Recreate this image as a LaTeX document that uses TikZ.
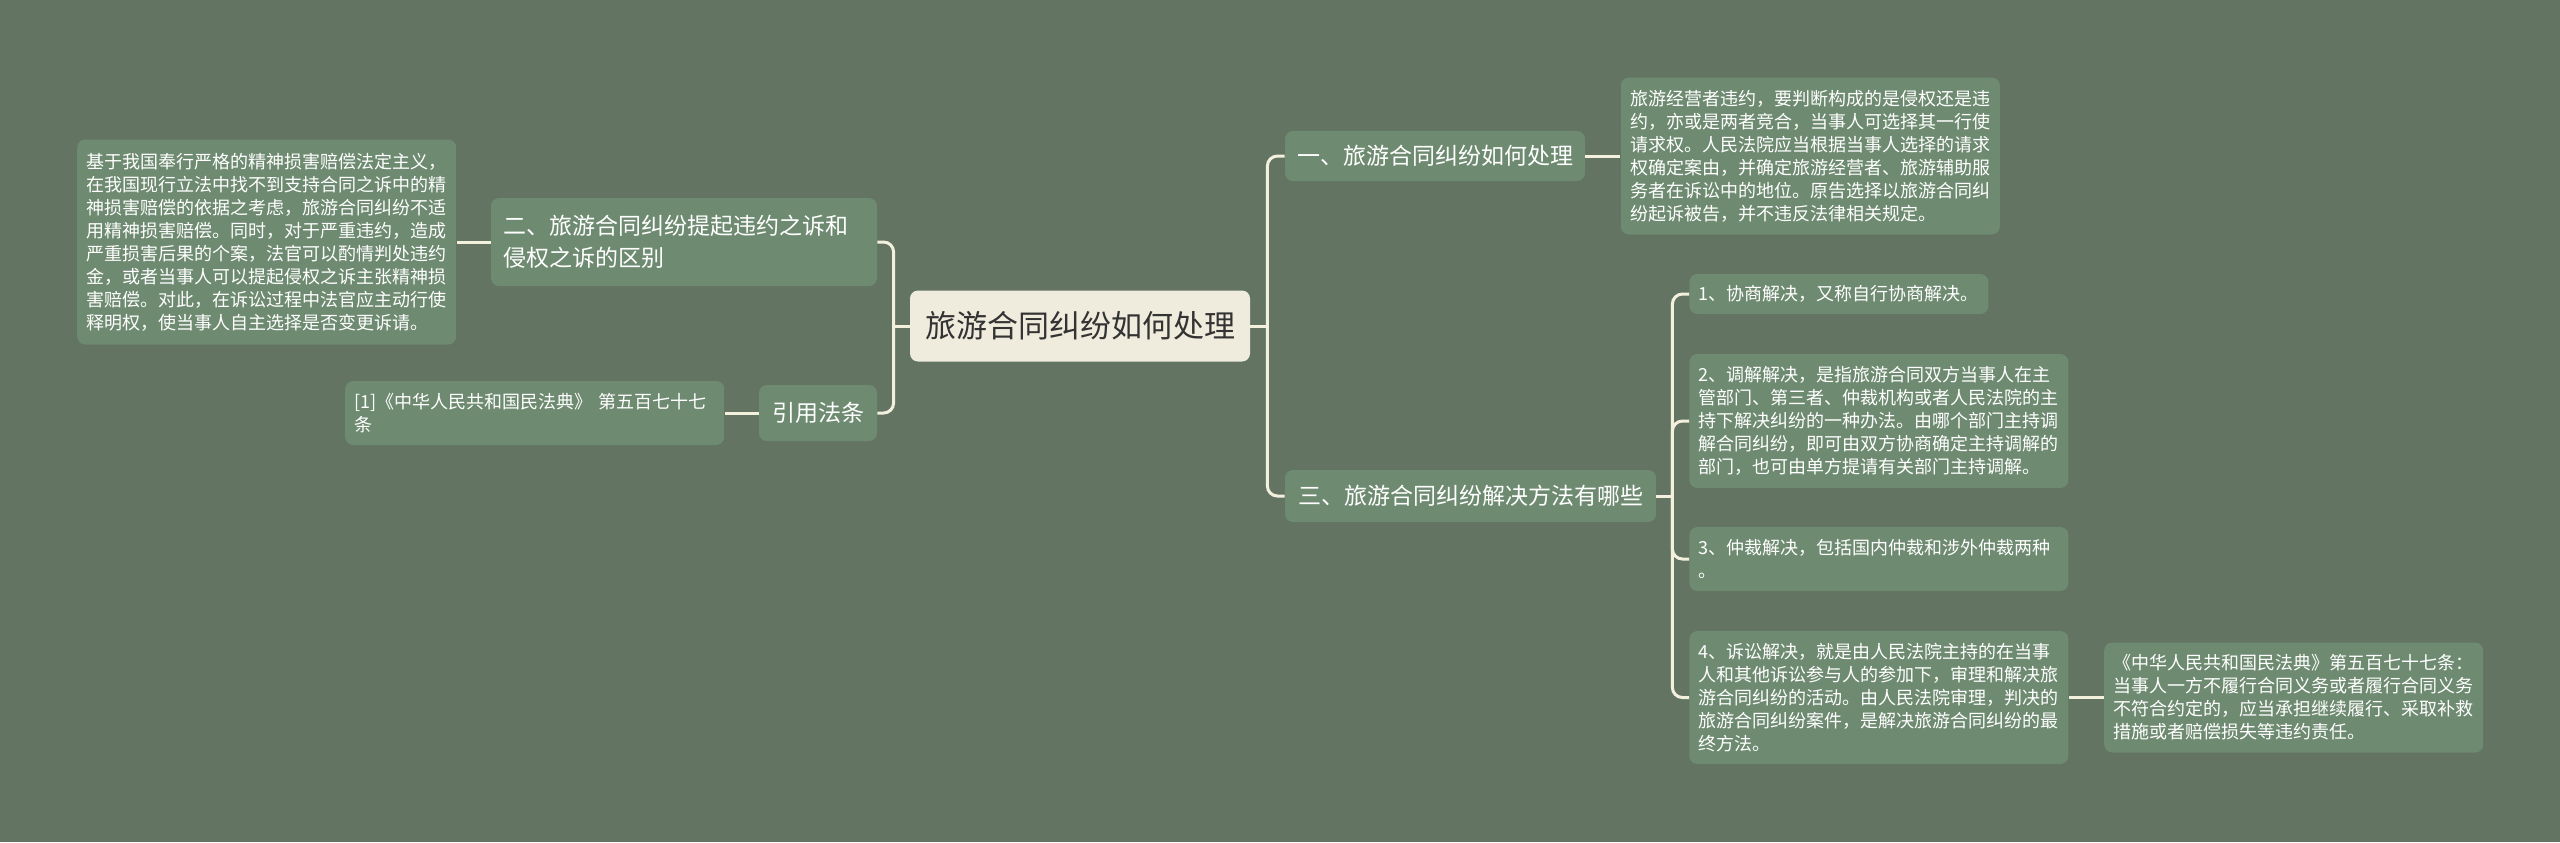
\documentclass[tikz,border=0pt]{standalone}
\usepackage{fontspec}
\setmainfont{Noto Sans CJK SC}
\usetikzlibrary{positioning}
\definecolor{bgcol}{HTML}{637462}
\definecolor{nodecol}{HTML}{6E8B71}
\definecolor{rootcol}{HTML}{F0ECDD}
\definecolor{linecol}{HTML}{F4F0DE}
\definecolor{roottext}{HTML}{333333}
\tikzset{
  rootbox/.style={
    rectangle,
    rounded corners=4pt,
    fill=rootcol,
    text=roottext,
    font=\fontsize{15.5pt}{18pt}\selectfont,
    minimum width=170pt,
    minimum height=35.5pt},
  topicbox/.style={
    rectangle,
    rounded corners=4pt,
    fill=nodecol,
    text=white,
    font=\fontsize{11.5pt}{16pt}\selectfont,
    inner xsep=6pt},
  leafbox/.style={
    rectangle,
    rounded corners=4pt,
    fill=nodecol,
    text=white,
    font=\fontsize{9pt}{11.5pt}\selectfont,
    text width=180pt,
    inner xsep=4.75pt,
    align=left},
  link/.style={draw=linecol, line width=1.5pt, rounded corners=5pt},
}
\begin{document}
\begin{tikzpicture}[x=0.5pt,y=-0.5pt]

\fill[bgcol] (0,0) rectangle (2560,842);
\useasboundingbox (0,0) rectangle (2560,842);

\node[rootbox] (root) at (1080,326) {旅游合同纠纷如何处理};

% right side
\node[topicbox, minimum width=150pt, minimum height=25pt] (one) at (1435,156) {一、旅游合同纠纷如何处理};

\node[leafbox, minimum height=78.5pt, right=17.5pt of one] (oneText) {
旅游经营者违约，要判断构成的是侵权还是违\\
约，亦或是两者竞合，当事人可选择其一行使\\
请求权。人民法院应当根据当事人选择的请求\\
权确定案由，并确定旅游经营者、旅游辅助服\\
务者在诉讼中的地位。原告选择以旅游合同纠\\
纷起诉被告，并不违反法律相关规定。
};

\node[topicbox, minimum width=185.5pt, minimum height=26pt] (three) at (1470.5,496) {三、旅游合同纠纷解决方法有哪些};

\node[leafbox, anchor=west, text width=140pt, minimum height=20pt] (sol1) at (1689,294) {
1、协商解决，又称自行协商解决。
};

\node[leafbox, anchor=west, minimum height=67pt] (sol2) at (1689,421) {
2、调解解决，是指旅游合同双方当事人在主\\
管部门、第三者、仲裁机构或者人民法院的主\\
持下解决纠纷的一种办法。由哪个部门主持调\\
解合同纠纷，即可由双方协商确定主持调解的\\
部门，也可由单方提请有关部门主持调解。
};

\node[leafbox, anchor=west, minimum height=32pt] (sol3) at (1689,559) {
3、仲裁解决，包括国内仲裁和涉外仲裁两种\\
。
};

\node[leafbox, anchor=west, minimum height=66.5pt] (sol4) at (1689,697.5) {
4、诉讼解决，就是由人民法院主持的在当事\\
人和其他诉讼参与人的参加下，审理和解决旅\\
游合同纠纷的活动。由人民法院审理，判决的\\
旅游合同纠纷案件，是解决旅游合同纠纷的最\\
终方法。
};

\node[leafbox, minimum height=55pt, right=17.5pt of sol4] (lawText) {
《中华人民共和国民法典》第五百七十七条：\\
当事人一方不履行合同义务或者履行合同义务\\
不符合约定的，应当承担继续履行、采取补救\\
措施或者赔偿损失等违约责任。
};

% left side
\node[topicbox, minimum width=193pt, minimum height=44pt, text width=181pt, align=left] (two) at (684,242) {
二、旅游合同纠纷提起违约之诉和\\
侵权之诉的区别
};

\node[leafbox, minimum height=102.5pt, left=17pt of two] (twoText) {
基于我国奉行严格的精神损害赔偿法定主义，\\
在我国现行立法中找不到支持合同之诉中的精\\
神损害赔偿的依据之考虑，旅游合同纠纷不适\\
用精神损害赔偿。同时，对于严重违约，造成\\
严重损害后果的个案，法官可以酌情判处违约\\
金，或者当事人可以提起侵权之诉主张精神损\\
害赔偿。对此，在诉讼过程中法官应主动行使\\
释明权，使当事人自主选择是否变更诉请。
};

\node[topicbox, minimum width=59pt, minimum height=28pt] (cite) at (818,413) {引用法条};

\node[leafbox, minimum height=32pt, left=17pt of cite] (citeText) {
[1]《中华人民共和国民法典》 第五百七十七\\
条
};

% connectors
\coordinate (lfork) at ([xshift=-8pt]root.west);
\coordinate (rfork) at ([xshift=8.5pt]root.east);
\coordinate (tfork) at ([xshift=8pt]three.east);

\draw[link] (root.west) -- (lfork);
\draw[link] (lfork) |- (two.east);
\draw[link] (lfork) |- (cite.east);
\draw[link] (two.west) -- (twoText.east);
\draw[link] (cite.west) -- (citeText.east);

\draw[link] (root.east) -- (rfork);
\draw[link] (rfork) |- (one.west);
\draw[link] (rfork) |- (three.west);
\draw[link] (one.east) -- (oneText.west);

\draw[link] (three.east) -- (tfork);
\draw[link] (tfork) |- (sol1.west);
\draw[link] (tfork) |- (sol2.west);
\draw[link] (tfork) |- (sol3.west);
\draw[link] (tfork) |- (sol4.west);
\draw[link] (sol4.east) -- (lawText.west);

\end{tikzpicture}
\end{document}
